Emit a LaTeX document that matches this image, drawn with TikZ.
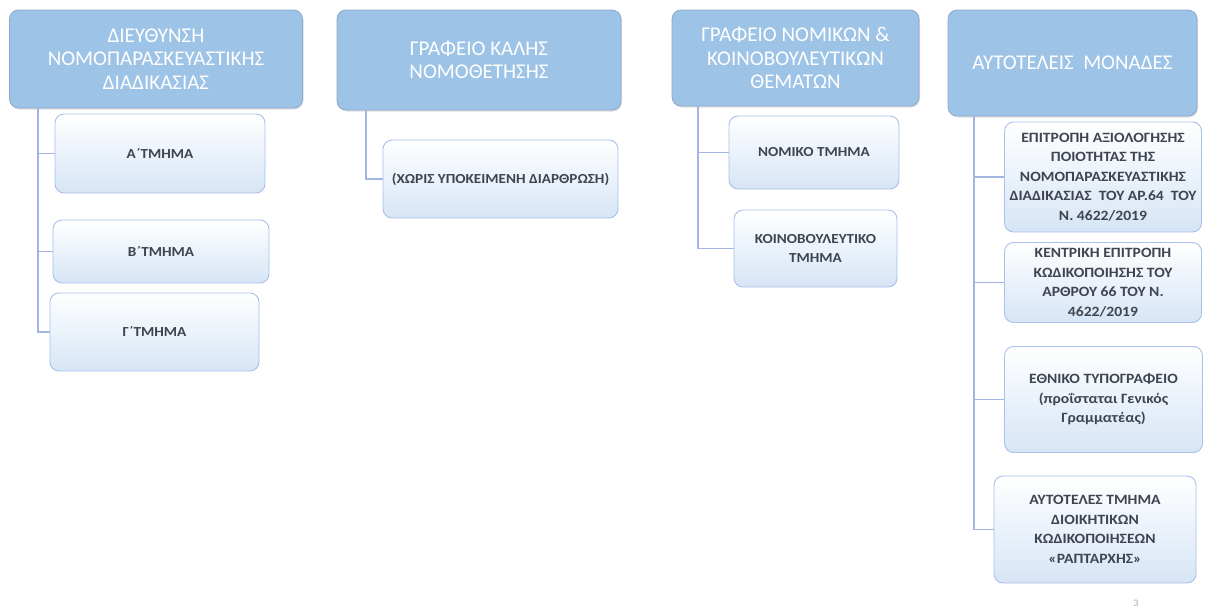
\documentclass[tikz,border=0pt]{standalone}
\usepackage{fontspec}
\setmainfont{Carlito}
\newfontfamily\subfont[FakeStretch=1.1]{Carlito}
\usetikzlibrary{shadows}
\definecolor{topfill}{HTML}{9DC3E6}
\definecolor{topdraw}{HTML}{8DA9CC}
\definecolor{subdraw}{HTML}{A8C0EA}
\definecolor{subbot}{HTML}{D6E5F5}
\definecolor{linec}{HTML}{A3B6E2}
\definecolor{subtext}{HTML}{3F4450}
\tikzset{
  headbox/.style={draw=topdraw, line width=0.8pt, fill=topfill, rounded corners=9pt,
    text=white, font=\fontsize{21}{23.5}\selectfont, align=center,
    drop shadow={shadow xshift=1pt, shadow yshift=-1.5pt, opacity=0.25}},
  subbox/.style={draw=subdraw, line width=0.9pt, top color=white, bottom color=subbot,
    rounded corners=9pt, text=subtext, font=\subfont\bfseries\fontsize{13.8}{19}\selectfont, align=center},
  unitbox/.style={subbox, font=\subfont\bfseries\fontsize{14.2}{19.5}\selectfont},
  conn/.style={draw=linec, line width=1.4pt}
}
\begin{document}
\begin{tikzpicture}[x=1pt,y=-1pt]
\useasboundingbox (0,0) rectangle (1205,608);
% column 1
\node[headbox, minimum width=293pt, minimum height=98pt] (h1) at (156,59) {ΔΙΕΥΘΥΝΣΗ\\ΝΟΜΟΠΑΡΑΣΚΕΥΑΣΤΙΚΗΣ\\ΔΙΑΔΙΚΑΣΙΑΣ};
\node[subbox, minimum width=210pt, minimum height=79pt] (a1) at (160,153.5) {Α΄ΤΜΗΜΑ};
\node[subbox, minimum width=216pt, minimum height=63pt] (a2) at (161,251.5) {Β΄ΤΜΗΜΑ};
\node[subbox, minimum width=209pt, minimum height=78pt] (a3) at (154.5,332) {Γ΄ΤΜΗΜΑ};
\coordinate (c1) at (38,108);
\draw[conn] (c1) |- (a1.west);
\draw[conn] (c1) |- (a2.west);
\draw[conn] (c1) |- (a3.west);
% column 2
\node[headbox, minimum width=284pt, minimum height=100pt] (h2) at (479,60) {ΓΡΑΦΕΙΟ ΚΑΛΗΣ\\ΝΟΜΟΘΕΤΗΣΗΣ};
\node[subbox, minimum width=235pt, minimum height=78pt] (b1) at (500.5,179) {(ΧΩΡΙΣ ΥΠΟΚΕΙΜΕΝΗ ΔΙΑΡΘΡΩΣΗ)};
\coordinate (c2) at (366,110);
\draw[conn] (c2) |- (b1.west);
% column 3
\node[headbox, minimum width=247pt, minimum height=96pt] (h3) at (795.5,58) {ΓΡΑΦΕΙΟ ΝΟΜΙΚΩΝ \&\\ΚΟΙΝΟΒΟΥΛΕΥΤΙΚΩΝ\\ΘΕΜΑΤΩΝ};
\node[subbox, minimum width=170pt, minimum height=73pt] (n1) at (814,152.5) {ΝΟΜΙΚΟ ΤΜΗΜΑ};
\node[subbox, minimum width=163pt, minimum height=77pt] (n2) at (815.5,248.5) {ΚΟΙΝΟΒΟΥΛΕΥΤΙΚΟ\\ΤΜΗΜΑ};
\coordinate (c3) at (698,106);
\draw[conn] (c3) |- (n1.west);
\draw[conn] (c3) |- (n2.west);
% column 4
\node[headbox, minimum width=249pt, minimum height=106pt] (h4) at (1072.5,63) {ΑΥΤΟΤΕΛΕΙΣ\ \ ΜΟΝΑΔΕΣ};
\node[unitbox, minimum width=197pt, minimum height=110pt] (e1) at (1103,177) {ΕΠΙΤΡΟΠΗ ΑΞΙΟΛΟΓΗΣΗΣ\\ΠΟΙΟΤΗΤΑΣ ΤΗΣ\\ΝΟΜΟΠΑΡΑΣΚΕΥΑΣΤΙΚΗΣ\\ΔΙΑΔΙΚΑΣΙΑΣ\ \ ΤΟΥ ΑΡ.64\ \ ΤΟΥ\\Ν. 4622/2019};
\node[unitbox, minimum width=197pt, minimum height=80pt] (e2) at (1103,282.5) {ΚΕΝΤΡΙΚΗ ΕΠΙΤΡΟΠΗ\\ΚΩΔΙΚΟΠΟΙΗΣΗΣ ΤΟΥ\\ΑΡΘΡΟΥ 66 ΤΟΥ Ν.\\4622/2019};
\node[unitbox, minimum width=198pt, minimum height=106pt] (e3) at (1103.5,399.5) {ΕΘΝΙΚΟ ΤΥΠΟΓΡΑΦΕΙΟ\\(προΐσταται Γενικός\\Γραμματέας)};
\node[unitbox, minimum width=202pt, minimum height=107pt] (e4) at (1095,529.5) {ΑΥΤΟΤΕΛΕΣ ΤΜΗΜΑ\\ΔΙΟΙΚΗΤΙΚΩΝ\\ΚΩΔΙΚΟΠΟΙΗΣΕΩΝ\\«ΡΑΠΤΑΡΧΗΣ»};
\coordinate (c4) at (974,116);
\draw[conn] (c4) |- (e1.west);
\draw[conn] (c4) |- (e2.west);
\draw[conn] (c4) |- (e3.west);
\draw[conn] (c4) |- (e4.west);
\node[text=gray!70, font=\fontsize{10}{12}\selectfont] (pg) at (1136,603) {3};
\end{tikzpicture}
\end{document}
